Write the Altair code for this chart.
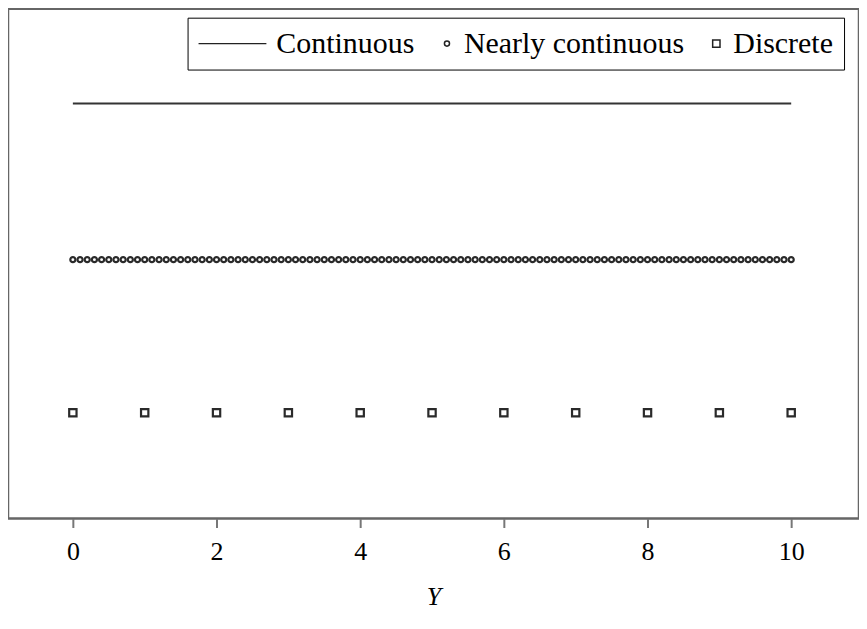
import altair as alt
import pandas as pd

series_names = ["Continuous", "Nearly continuous", "Discrete"]

continuous_x = [0, 10]
continuous_level = 3.0

nearly_x = [0.0, 0.1, 0.2, 0.3, 0.4, 0.5, 0.6, 0.7, 0.8, 0.9,
            1.0, 1.1, 1.2, 1.3, 1.4, 1.5, 1.6, 1.7, 1.8, 1.9,
            2.0, 2.1, 2.2, 2.3, 2.4, 2.5, 2.6, 2.7, 2.8, 2.9,
            3.0, 3.1, 3.2, 3.3, 3.4, 3.5, 3.6, 3.7, 3.8, 3.9,
            4.0, 4.1, 4.2, 4.3, 4.4, 4.5, 4.6, 4.7, 4.8, 4.9,
            5.0, 5.1, 5.2, 5.3, 5.4, 5.5, 5.6, 5.7, 5.8, 5.9,
            6.0, 6.1, 6.2, 6.3, 6.4, 6.5, 6.6, 6.7, 6.8, 6.9,
            7.0, 7.1, 7.2, 7.3, 7.4, 7.5, 7.6, 7.7, 7.8, 7.9,
            8.0, 8.1, 8.2, 8.3, 8.4, 8.5, 8.6, 8.7, 8.8, 8.9,
            9.0, 9.1, 9.2, 9.3, 9.4, 9.5, 9.6, 9.7, 9.8, 9.9,
            10.0]
nearly_level = 1.99

discrete_x = [0, 1, 2, 3, 4, 5, 6, 7, 8, 9, 10]
discrete_level = 1.0

x_ticks = [0, 2, 4, 6, 8, 10]

line_df = pd.DataFrame({"Y": continuous_x, "level": [continuous_level] * len(continuous_x),
                        "series": ["Continuous"] * len(continuous_x)})
pts_df = pd.DataFrame({
    "Y": nearly_x + discrete_x,
    "level": [nearly_level] * len(nearly_x) + [discrete_level] * len(discrete_x),
    "series": ["Nearly continuous"] * len(nearly_x) + ["Discrete"] * len(discrete_x),
})

xscale = alt.Scale(domain=[-0.903, 10.944], nice=False, zero=False)
yscale = alt.Scale(domain=[0.316, 3.613], nice=False, zero=False)

xenc = alt.X("Y:Q", scale=xscale,
             axis=alt.Axis(title="Y", values=x_ticks, grid=False, domain=False,
                           tickColor="#777", tickWidth=2, tickSize=9,
                           labelFont="Liberation Serif", labelFontSize=26,
                           labelColor="black", labelPadding=11,
                           titleFont="Liberation Serif", titleFontSize=26,
                           titleFontStyle="italic", titleFontWeight="normal",
                           titleColor="black", titlePadding=19))
yenc = alt.Y("level:Q", scale=yscale, axis=None)

line = alt.Chart(line_df).mark_line(color="#333", strokeWidth=2).encode(x=xenc, y=yenc)

# blank left-oriented title: its padding reserves room inside the box for the long line symbol
legend = alt.Legend(title="\u2003", titleOrient="left", titleFontSize=16,
                    titleFont="Liberation Serif", titlePadding=46,
                    orient="none", legendX=180, legendY=9,
                    direction="horizontal", columns=3,
                    strokeColor="black", padding=11,
                    labelFont="Liberation Serif", labelFontSize=30,
                    labelColor="black", labelLimit=400,
                    symbolStrokeColor="#222", symbolStrokeWidth=1.5,
                    symbolFillColor="transparent",
                    columnPadding=17, labelOffset=2)

points = alt.Chart(pts_df).mark_point(filled=False, color="#2a2a2a", strokeWidth=2.2, opacity=1).encode(
    x=xenc, y=yenc,
    shape=alt.Shape("series:N",
                    scale=alt.Scale(domain=series_names,
                                    range=["M-30.5,0H3.5", "circle", "square"]),
                    legend=legend),
    size=alt.Size("series:N",
                  scale=alt.Scale(type="ordinal", domain=series_names, range=[16, 26, 54]),
                  legend=legend),
)

chart = alt.layer(line, points).properties(
    width=853, height=511,
    padding={"left": 0, "top": 0, "right": 0, "bottom": 0},
).configure_view(stroke="#666", strokeWidth=2.5)

chart.save("out.html", embed_options={"renderer": "svg", "actions": False})
